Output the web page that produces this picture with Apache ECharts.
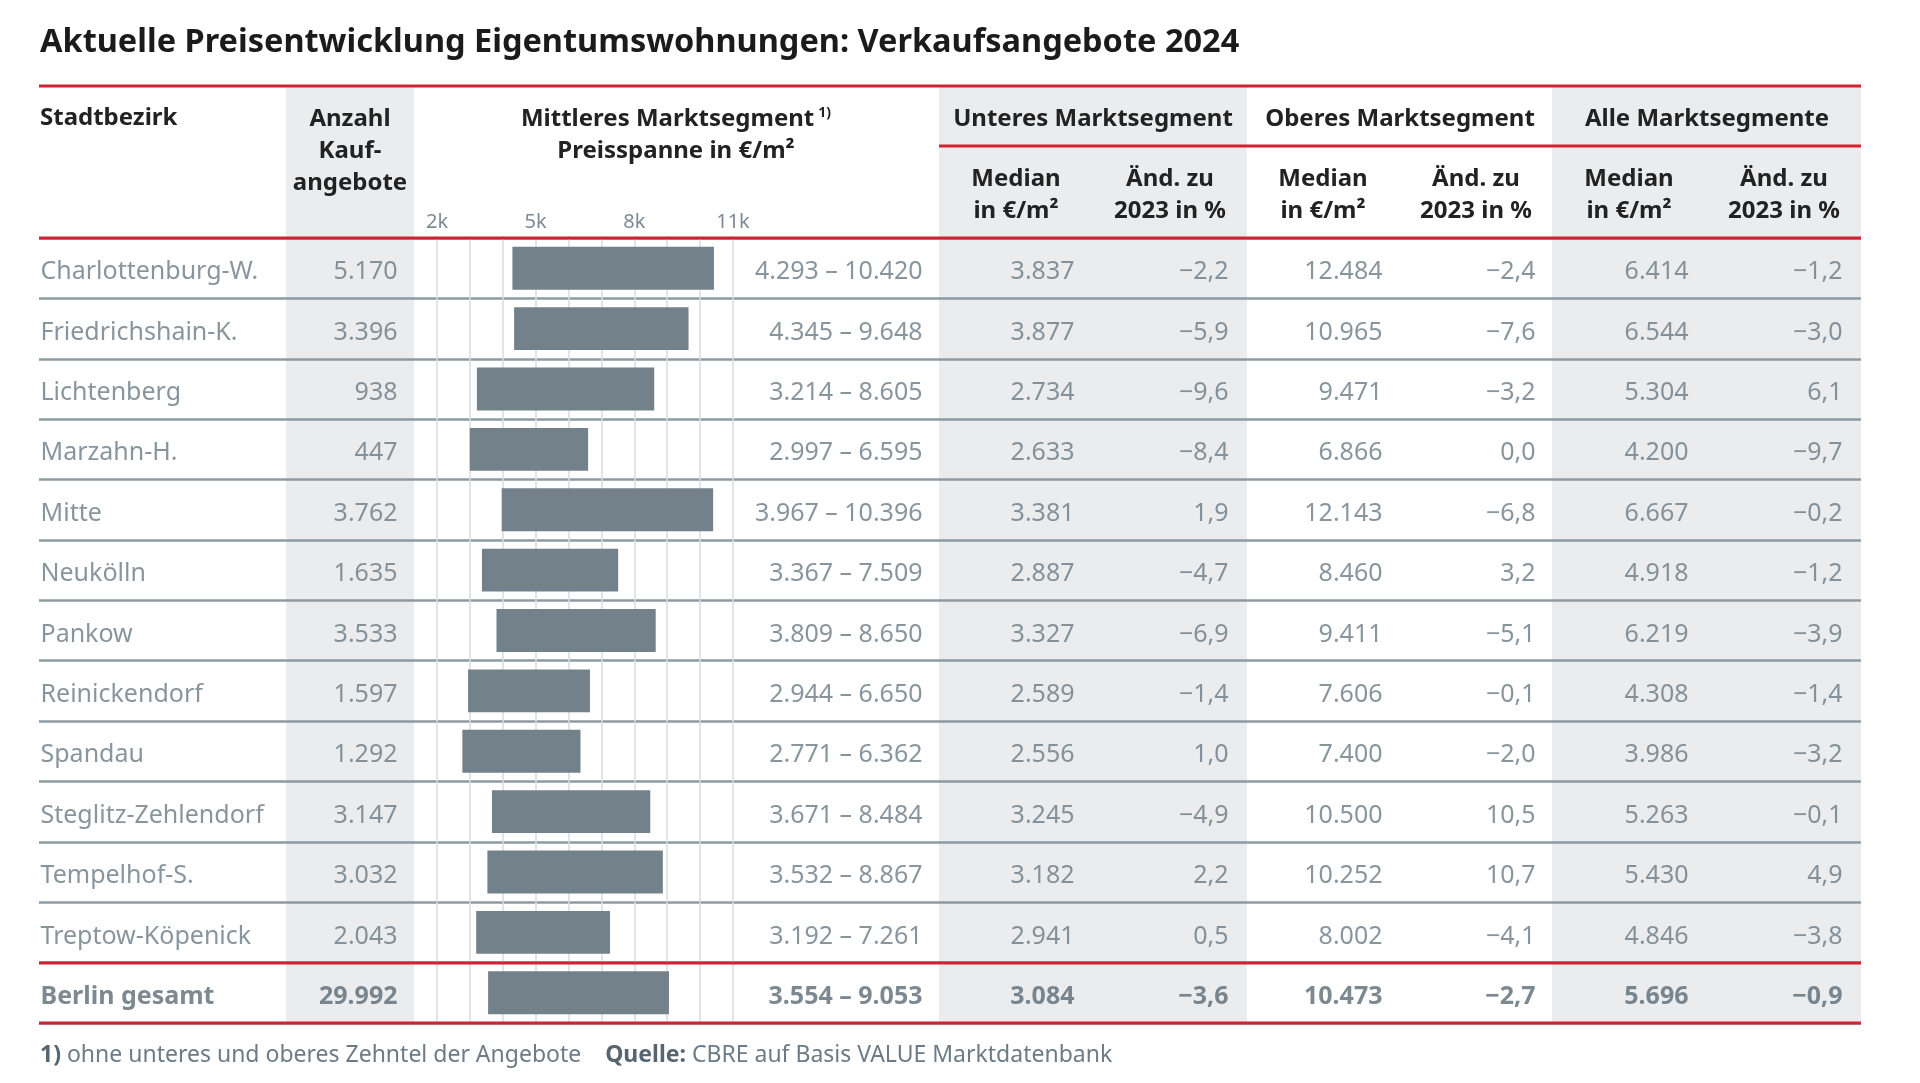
<!DOCTYPE html>
<html><head><meta charset="utf-8">
<script src="https://cdn.jsdelivr.net/npm/echarts@6/dist/echarts.min.js"></script>
<style>html,body{margin:0;padding:0;background:#fff}#c{width:1920px;height:1083px}</style>
</head><body><div id="c"></div>
<script>
// ---- data ----
const districts = ['Charlottenburg-W.','Friedrichshain-K.','Lichtenberg','Marzahn-H.','Mitte','Neukölln','Pankow','Reinickendorf','Spandau','Steglitz-Zehlendorf','Tempelhof-S.','Treptow-Köpenick','Berlin gesamt'];
const offers = [5170,3396,938,447,3762,1635,3533,1597,1292,3147,3032,2043,29992];
const midLow = [4293,4345,3214,2997,3967,3367,3809,2944,2771,3671,3532,3192,3554];
const midHigh = [10420,9648,8605,6595,10396,7509,8650,6650,6362,8484,8867,7261,9053];
const lowerMedian = [3837,3877,2734,2633,3381,2887,3327,2589,2556,3245,3182,2941,3084];
const lowerChange = [-2.2,-5.9,-9.6,-8.4,1.9,-4.7,-6.9,-1.4,1.0,-4.9,2.2,0.5,-3.6];
const upperMedian = [12484,10965,9471,6866,12143,8460,9411,7606,7400,10500,10252,8002,10473];
const upperChange = [-2.4,-7.6,-3.2,0.0,-6.8,3.2,-5.1,-0.1,-2.0,10.5,10.7,-4.1,-2.7];
const allMedian = [6414,6544,5304,4200,6667,4918,6219,4308,3986,5263,5430,4846,5696];
const allChange = [-1.2,-3.0,6.1,-9.7,-0.2,-1.2,-3.9,-1.4,-3.2,-0.1,4.9,-3.8,-0.9];
const priceTicks = [2000,5000,8000,11000];

// ---- formatting ----
const fmtInt = n => String(n).replace(/\B(?=(\d{3})+(?!\d))/g, '.');
const fmtPct = v => (v < 0 ? '\u2212' : '') + Math.abs(v).toFixed(1).replace('.', ',');

// ---- layout constants ----
const FONT = 'Noto Sans';
const TOP = 238, BOTTOM = 60, W = 1920;
const TXT = '#6c7b85', TXT_B = '#5d6c76', HEAD = '#222222', RED = '#d42030';
const isTotal = i => i === districts.length - 1;

const grids = [], xAxes = [], yAxes = [], series = [];
function addGrid(left, width, xOpt, yOpt) {
  const idx = grids.length;
  grids.push({left: left, width: width, top: TOP, bottom: BOTTOM, containLabel: false});
  xAxes.push(Object.assign({gridIndex: idx, type: 'value', min: 0, max: 1, show: false}, xOpt || {}));
  yAxes.push(Object.assign({gridIndex: idx, type: 'category', data: districts, inverse: true, show: false}, yOpt || {}));
  return idx;
}

// separator grid (full table width)
addGrid(39, 1822, null, {
  show: true, axisLine: {show: false}, axisTick: {show: false}, axisLabel: {show: false},
  splitLine: {show: true, interval: 0, lineStyle: {color: '#8d9aa1', width: 2.5}}
});

// text column helper
function addTextColumn(anchorX, values, fmt, alignLeft) {
  const g = alignLeft ? addGrid(anchorX, 60) : addGrid(anchorX - 60, 60);
  series.push({
    type: 'scatter', xAxisIndex: g, yAxisIndex: g, symbolSize: 1, silent: true,
    itemStyle: {color: 'rgba(0,0,0,0)'},
    data: values.map((v, i) => ({
      value: [alignLeft ? 0 : 1, districts[i]],
      label: {fontWeight: isTotal(i) ? 'bold' : 'normal', color: isTotal(i) ? TXT_B : TXT}
    })),
    label: {show: true, position: alignLeft ? 'right' : 'left', distance: 0, offset: [0, 4],
      fontFamily: FONT, fontSize: 25, color: TXT,
      formatter: p => fmt(values[p.dataIndex], p.dataIndex)}
  });
}

addTextColumn(40, districts, v => v, true);
addTextColumn(398, offers, fmtInt);
addTextColumn(923, midLow, (v, i) => fmtInt(v) + ' \u2013 ' + fmtInt(midHigh[i]));
addTextColumn(1075, lowerMedian, fmtInt);
addTextColumn(1229, lowerChange, fmtPct);
addTextColumn(1383, upperMedian, fmtInt);
addTextColumn(1536, upperChange, fmtPct);
addTextColumn(1689, allMedian, fmtInt);
addTextColumn(1843, allChange, fmtPct);

// price range bars
const gb = grids.length;
grids.push({left: 437, right: W - 733, top: TOP, bottom: BOTTOM});
xAxes.push({gridIndex: gb, type: 'value', min: 2000, max: 11000, interval: 1000, position: 'top',
  axisLine: {show: false}, axisTick: {show: false},
  axisLabel: {show: true, margin: 6, color: '#7d8b94', fontFamily: FONT, fontSize: 20,
    formatter: v => priceTicks.includes(v) ? (v / 1000) + 'k' : ''},
  splitLine: {show: true, lineStyle: {color: '#d6dde2', width: 1.5}}});
yAxes.push({gridIndex: gb, type: 'category', data: districts, inverse: true, show: false});
series.push({
  type: 'custom', xAxisIndex: gb, yAxisIndex: gb, z: 5,
  data: districts.map((d, i) => [midLow[i], midHigh[i], i]),
  encode: {x: [0, 1], y: 2},
  renderItem: function (params, api) {
    const a = api.coord([api.value(0), api.value(2)]);
    const b = api.coord([api.value(1), api.value(2)]);
    const h = api.size([0, 1])[1] * 0.71;
    return {type: 'rect', shape: {x: a[0], y: a[1] - h / 2, width: b[0] - a[0], height: h},
      style: {fill: '#72818a'}};
  }
});

// ---- static graphics (backgrounds, rules, headers) ----
const hText = (x, y, text, align, size, weight, color) => ({
  type: 'text', x: x, y: y, z: 50,
  style: {text: text, fontFamily: FONT, fontSize: size || 24, fontWeight: weight || 'bold',
    fill: color || HEAD, align: align || 'center', verticalAlign: 'middle'}
});
const rule = (x1, x2, y) => ({type: 'line', z: 60,
  shape: {x1: x1, y1: y, x2: x2, y2: y}, style: {stroke: RED, lineWidth: 3}});
const bg = (x, w) => ({type: 'rect', z: -10, shape: {x: x, y: 86, width: w, height: 937},
  style: {fill: '#ebeced'}});

const graphics = [
  bg(286, 128), bg(939, 308), bg(1552, 309),
  rule(39, 1861, 86), rule(939, 1861, 146), rule(39, 1861, 238), rule(39, 1861, 963), rule(39, 1861, 1023),
  hText(40, 43, 'Aktuelle Preisentwicklung Eigentumswohnungen: Verkaufsangebote 2024', 'left', 32.5, 'bold', '#1b1b1b'),
  hText(40, 118, 'Stadtbezirk', 'left'),
  hText(350, 119, 'Anzahl'), hText(350, 151, 'Kauf-'), hText(350, 183, 'angebote'),
  {type: 'text', x: 676, y: 119, z: 50, style: {
    text: '{m|Mittleres Marktsegment}{s|1)}', align: 'center', verticalAlign: 'middle',
    rich: {m: {fontFamily: FONT, fontSize: 24, fontWeight: 'bold', fill: HEAD, color: HEAD},
      s: {fontFamily: FONT, fontSize: 14, fontWeight: 'bold', fill: HEAD, color: HEAD, padding: [0, 0, 12, 4]}}}},
  hText(676, 151, 'Preisspanne in \u20ac/m\u00b2'),
  hText(1093, 119, 'Unteres Marktsegment'),
  hText(1400, 119, 'Oberes Marktsegment'),
  hText(1707, 119, 'Alle Marktsegmente')
];
[1016, 1323, 1629].forEach(x => {
  graphics.push(hText(x, 179, 'Median'), hText(x, 211, 'in \u20ac/m\u00b2'));
});
[1170, 1476, 1784].forEach(x => {
  graphics.push(hText(x, 179, '\u00c4nd. zu'), hText(x, 211, '2023 in %'));
});
graphics.push({type: 'text', x: 40, y: 1055, z: 50, style: {
  text: '{b|1)}{n| ohne unteres und oberes Zehntel der Angebote    }{b|Quelle:}{n| CBRE auf Basis VALUE Marktdatenbank}',
  verticalAlign: 'middle',
  rich: {b: {fontFamily: FONT, fontSize: 23, fontWeight: 'bold', fill: '#56656f', color: '#56656f'},
    n: {fontFamily: FONT, fontSize: 23, fill: '#6c7b85', color: '#6c7b85'}}}});

const chart = echarts.init(document.getElementById('c'));
chart.setOption({
  animation: false,
  backgroundColor: '#ffffff',
  grid: grids, xAxis: xAxes, yAxis: yAxes, series: series,
  graphic: {elements: graphics}
});
</script></body></html>
